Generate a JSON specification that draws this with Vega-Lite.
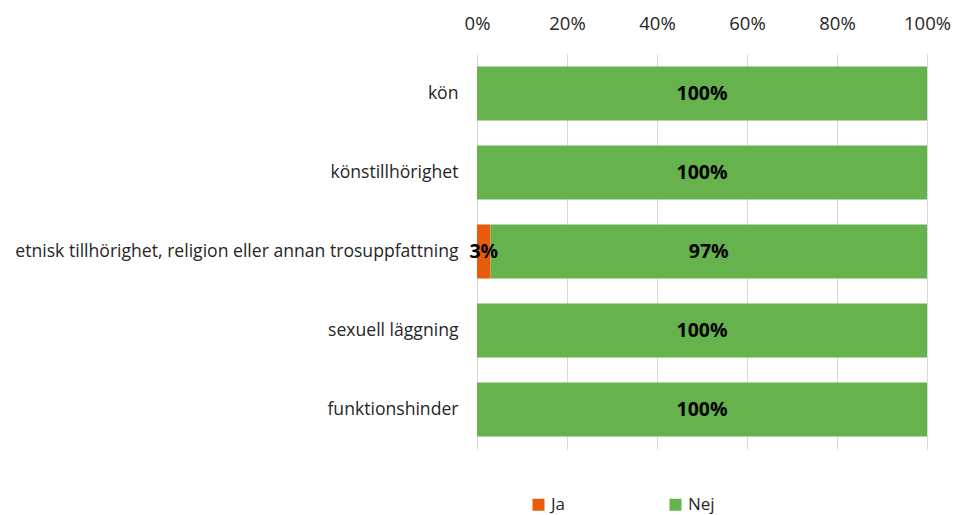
{
  "$schema": "https://vega.github.io/schema/vega-lite/v6.json",
  "width": 450,
  "height": 395,
  "autosize": {"type": "none"},
  "padding": {"left": 477, "top": 54, "right": 29, "bottom": 66},
  "background": "white",
  "config": {
    "view": {"stroke": null},
    "font": "Open Sans",
    "axis": {"labelFont": "Open Sans", "labelColor": "#262626"},
    "legend": {"labelFont": "Open Sans"}
  },
  "data": {
    "values": [
      {"kategori": "kön", "svar": "Ja", "andel": 0},
      {"kategori": "kön", "svar": "Nej", "andel": 100},
      {"kategori": "könstillhörighet", "svar": "Ja", "andel": 0},
      {"kategori": "könstillhörighet", "svar": "Nej", "andel": 100},
      {"kategori": "etnisk tillhörighet, religion eller annan trosuppfattning", "svar": "Ja", "andel": 3},
      {"kategori": "etnisk tillhörighet, religion eller annan trosuppfattning", "svar": "Nej", "andel": 97},
      {"kategori": "sexuell läggning", "svar": "Ja", "andel": 0},
      {"kategori": "sexuell läggning", "svar": "Nej", "andel": 100},
      {"kategori": "funktionshinder", "svar": "Ja", "andel": 0},
      {"kategori": "funktionshinder", "svar": "Nej", "andel": 100}
    ]
  },
  "transform": [
    {"calculate": "datum.svar === 'Ja' ? 0 : 1", "as": "ordning"},
    {"stack": "andel", "groupby": ["kategori"], "sort": [{"field": "ordning"}], "as": ["x0", "x1"]},
    {"calculate": "(datum.x0 + datum.x1) / 2", "as": "mitt"},
    {"calculate": "datum.andel + '%'", "as": "etikett"}
  ],
  "encoding": {
    "y": {
      "field": "kategori",
      "type": "nominal",
      "sort": ["kön", "könstillhörighet", "etnisk tillhörighet, religion eller annan trosuppfattning", "sexuell läggning", "funktionshinder"],
      "title": null,
      "scale": {"paddingInner": 0.316, "paddingOuter": 0.158},
      "axis": {"domain": false, "ticks": false, "labelFontSize": 17.6, "labelPadding": 19, "labelLimit": 600}
    }
  },
  "layer": [
    {
      "mark": {"type": "bar"},
      "encoding": {
        "x": {
          "field": "x0",
          "type": "quantitative",
          "scale": {"domain": [0, 100]},
          "title": null,
          "axis": {
            "orient": "top",
            "values": [0, 20, 40, 60, 80, 100],
            "labelExpr": "datum.value + '%'",
            "labelFlush": false,
            "labelBound": false,
            "domain": false,
            "ticks": false,
            "labelFontSize": 18.5,
            "labelPadding": 21,
            "grid": true,
            "gridColor": "#d9d9d9",
            "gridWidth": 1
          }
        },
        "x2": {"field": "x1"},
        "color": {
          "field": "svar",
          "type": "nominal",
          "scale": {"domain": ["Ja", "Nej"], "range": ["#E85A0C", "#66B24C"]},
          "legend": {
            "title": null,
            "orient": "none",
            "legendX": 53,
            "legendY": 442,
            "direction": "horizontal",
            "symbolType": "square",
            "symbolSize": 144,
            "symbolStrokeWidth": 0,
            "labelFontSize": 17,
            "labelColor": "#262626",
            "labelOffset": 4,
            "columnPadding": 101
          }
        }
      }
    },
    {
      "transform": [{"filter": "datum.andel > 0"}],
      "mark": {"type": "text", "fontWeight": "bold", "fontSize": 19.5, "color": "#000000"},
      "encoding": {
        "x": {"field": "mitt", "type": "quantitative"},
        "text": {"field": "etikett", "type": "nominal"}
      }
    }
  ]
}
